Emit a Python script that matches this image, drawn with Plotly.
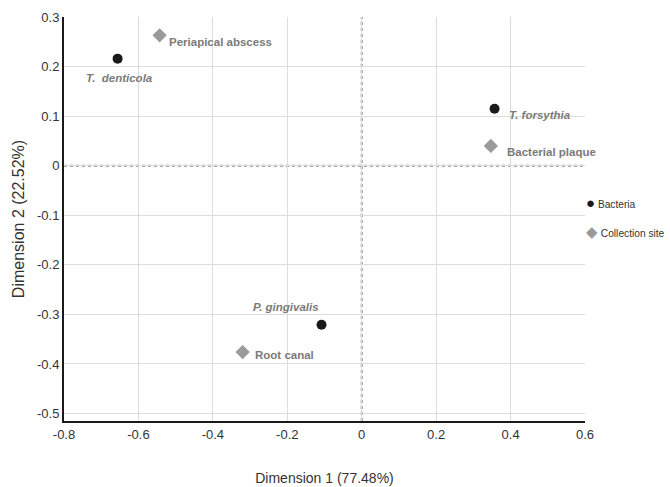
import plotly.graph_objects as go

bacteria = ["T.  denticola", "T. forsythia", "P. gingivalis"]
bact_x = [-0.656, 0.357, -0.108]
bact_y = [0.216, 0.115, -0.321]

sites = ["Periapical abscess", "Bacterial plaque", "Root canal"]
site_x = [-0.543, 0.347, -0.32]
site_y = [0.263, 0.040, -0.376]

legend_names = ["Bacteria", "Collection site"]
legend_symbols = ["●", "◆"]

x_ticks = [-0.8, -0.6, -0.4, -0.2, 0, 0.2, 0.4, 0.6]
y_ticks = [0.3, 0.2, 0.1, 0, -0.1, -0.2, -0.3, -0.4, -0.5]

BACT_COLOR = "#1a1a1a"
SITE_COLOR = "#9a9a9a"

# label offsets in pixels (xshift, yshift, xanchor)
bact_off = [(-34, -19, "left"), (12, -6, "left"), (-1, 18, "right")]
site_off = [(7, -7, "left"), (14, -6, "left"), (10, -3, "left")]

FONT = "Liberation Sans, Arial"

fig = go.Figure()
fig.add_trace(go.Scatter(x=bact_x, y=bact_y, mode="markers", name=legend_names[0],
                         marker=dict(symbol="circle", size=10, color=BACT_COLOR)))
fig.add_trace(go.Scatter(x=site_x, y=site_y, mode="markers", name=legend_names[1],
                         marker=dict(symbol="diamond", size=11, color=SITE_COLOR)))

for lbl, x, y, (dx, dy, xa) in zip(bacteria, bact_x, bact_y, bact_off):
    fig.add_annotation(x=x, y=y, text=f"<b><i>{lbl}</i></b>", showarrow=False,
                       xanchor=xa, yanchor="middle", xshift=dx, yshift=dy,
                       font=dict(family=FONT, size=11.5, color="#7a7a7a"))
for lbl, x, y, (dx, dy, xa) in zip(sites, site_x, site_y, site_off):
    fig.add_annotation(x=x, y=y, text=f"<b>{lbl}</b>", showarrow=False,
                       xanchor=xa, yanchor="middle", xshift=dx, yshift=dy,
                       font=dict(family=FONT, size=11.5, color="#7a7a7a"))

# legend drawn as text entries
for i, (nm, sym, col) in enumerate(zip(legend_names, legend_symbols, [BACT_COLOR, SITE_COLOR])):
    fig.add_annotation(xref="paper", yref="paper", x=0.999, y=0.540 - i * 0.072,
                       xanchor="left", yanchor="middle", showarrow=False,
                       text=f"<span style='color:{col}; font-size:15px'>{sym}</span> {nm}",
                       font=dict(family=FONT, size=10.2, color="#333"))

# dotted zero lines
fig.add_shape(type="line", xref="x", yref="paper", x0=0, x1=0, y0=0, y1=1,
              line=dict(color="#8a8a8a", width=2, dash="dot"), layer="below")
fig.add_shape(type="line", xref="paper", yref="y", x0=0, x1=1, y0=0, y1=0,
              line=dict(color="#8a8a8a", width=2, dash="dot"), layer="below")

fig.update_xaxes(range=[-0.8, 0.6], tickvals=x_ticks, ticktext=[str(v) for v in x_ticks],
                 showgrid=True, gridcolor="#dcdcdc", gridwidth=1, zeroline=False,
                 showline=True, linecolor="#1a1a1a", linewidth=2, ticks="",
                 tickfont=dict(family=FONT, size=13, color="#333"),
                 title=dict(text="Dimension 1 (77.48%)", standoff=33,
                            font=dict(family=FONT, size=14, color="#333")))
fig.update_yaxes(range=[-0.515, 0.3], tickvals=y_ticks, ticktext=[str(v) for v in y_ticks],
                 showgrid=True, gridcolor="#dcdcdc", gridwidth=1, zeroline=False,
                 showline=True, linecolor="#1a1a1a", linewidth=2, ticks="",
                 tickfont=dict(family=FONT, size=13, color="#333"),
                 title=dict(text="Dimension 2 (22.52%)", standoff=8,
                            font=dict(family=FONT, size=16, color="#333")))

fig.update_layout(
    width=670, height=487,
    margin=dict(l=64, r=85, t=17, b=66, autoexpand=False),
    plot_bgcolor="white", paper_bgcolor="white",
    showlegend=False,
)

fig.write_html("out.html", config={"displayModeBar": False},
               post_script="document.body.style.margin='0px';document.body.style.overflow='hidden';")
